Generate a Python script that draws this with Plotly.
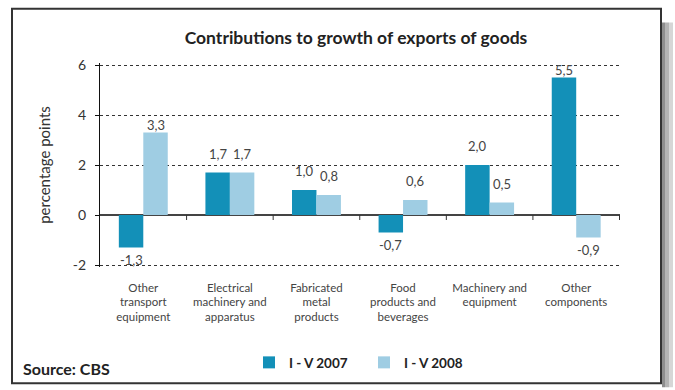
import plotly.graph_objects as go

# Export categories and contributions to growth (percentage points)
categories = [
    "Other<br>transport<br>equipment",
    "Electrical<br>machinery and<br>apparatus",
    "Fabricated<br>metal<br>products",
    "Food<br>products and<br>beverages",
    "Machinery and<br>equipment",
    "Other<br>components",
]
series_names = ["I - V 2007", "I - V 2008"]
values_2007 = [-1.3, 1.7, 1.0, -0.7, 2.0, 5.5]
values_2008 = [3.3, 1.7, 0.8, 0.6, 0.5, -0.9]
y_ticks = [-2, 0, 2, 4, 6]

colors = ["#1390b8", "#9fcde3"]

W, H = 675, 390
L, R, T, B = 100, 55, 63, 120
PW, PH = W - L - R, H - T - B
PAD = 0.08  # small range padding so the edge gridlines stay visible


def px(x):
    return (x - L) / PW


def py(y):
    return (H - B - y) / PH


fig = go.Figure()
for name, vals, col in zip(series_names, [values_2007, values_2008], colors):
    fig.add_trace(go.Bar(
        x=categories, y=vals, name=name,
        marker=dict(color=col, line=dict(width=0)),
    ))

bargap = 0.435
half = (1 - bargap) / 4  # centre offset of each bar within a group


def label_shift(v):
    # tall bars keep their label tucked close under the gridline above
    if v > 3:
        return 8
    return 19 if v >= 0 else -12


annotations = []
for k, vals in enumerate([values_2007, values_2008]):
    off = -half if k == 0 else half
    for i, v in enumerate(vals):
        annotations.append(dict(
            x=i + off, y=v, xref="x", yref="y",
            text=f"{v:.1f}".replace(".", ","),
            showarrow=False, yanchor="middle",
            yshift=label_shift(v),
            font=dict(size=13, color="#444444"),
        ))

annotations.append(dict(
    x=px(21), y=py(373), xref="paper", yref="paper",
    xanchor="left", yanchor="middle", showarrow=False,
    text="<b>Source: CBS</b>",
    font=dict(size=16, color="#222222"),
))

shapes = []
# shadow on the right of the frame
for x0, x1, c in [(662, 665, "#8e8e8e"), (665, 669, "#b4b4b4"), (669, 673, "#d6d6d6")]:
    shapes.append(dict(type="rect", xref="paper", yref="paper",
                       x0=px(x0), x1=px(x1), y0=py(392), y1=py(22),
                       fillcolor=c, line=dict(width=0), layer="below"))
# frame
shapes.append(dict(type="rect", xref="paper", yref="paper",
                   x0=px(12), x1=px(661), y0=py(388), y1=py(8),
                   line=dict(color="#333333", width=2), fillcolor="rgba(0,0,0,0)"))
# small ticks under the zero line between categories
for i in range(len(categories)):
    shapes.append(dict(type="line", xref="x", yref="y", ysizemode="pixel",
                       yanchor=0, x0=i + 0.5, x1=i + 0.5, y0=0, y1=-5,
                       line=dict(color="#333333", width=1)))

fig.update_layout(
    width=W, height=H,
    margin=dict(l=L, r=R, t=T, b=B),
    paper_bgcolor="white", plot_bgcolor="white",
    font=dict(family="Lato", color="#333333"),
    title=dict(
        text="<b>Contributions to growth of exports of goods</b>",
        x=356 / W, xref="container", xanchor="center",
        y=1 - 38 / H, yref="container", yanchor="middle",
        font=dict(size=17.5, color="#222222"),
    ),
    barmode="group", bargap=bargap, bargroupgap=0,
    showlegend=True,
    legend=dict(
        orientation="h", x=px(249), y=py(367), xref="paper", yref="paper",
        xanchor="left", yanchor="middle",
        font=dict(size=13.5, color="#222222", weight="bold"),
        entrywidth=70, bgcolor="rgba(0,0,0,0)",
    ),
    annotations=annotations,
    shapes=shapes,
)

fig.update_xaxes(
    showline=False, showgrid=False, zeroline=False,
    ticks="", ticklabelstandoff=12,
    tickfont=dict(size=11.5, color="#444444"),
)
fig.update_yaxes(
    range=[-2 - PAD, 6 + PAD], tickvals=y_ticks, ticktext=[str(t) for t in y_ticks],
    showline=True, linecolor="#111111", linewidth=1,
    ticks="outside", ticklen=4, tickcolor="#111111",
    ticklabelstandoff=6,
    showgrid=True, gridcolor="#333333", griddash="dot", gridwidth=1,
    zeroline=True, zerolinecolor="#444444", zerolinewidth=1.5,
    tickfont=dict(size=14, color="#333333"),
    title=dict(text="percentage points", standoff=18,
               font=dict(size=15, color="#333333")),
)

fig.write_html("out.html")
